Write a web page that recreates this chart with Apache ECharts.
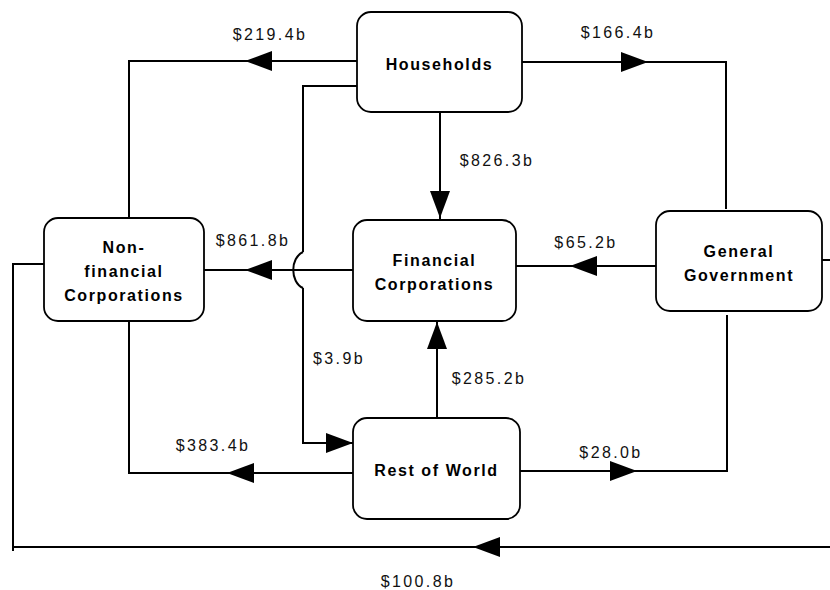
<!DOCTYPE html>
<html>
<head>
<meta charset="utf-8">
<script src="https://cdn.jsdelivr.net/npm/echarts@6/dist/echarts.min.js"></script>
<style>
html, body { margin: 0; padding: 0; background: #fff; }
#flow { width: 830px; height: 590px; }
#flow text { letter-spacing: 2.4px; }
#flow text[style*="bold"] { letter-spacing: 1.6px; }
</style>
</head>
<body>
<div id="flow"></div>
<script>
// sectors of the economy
var sectors = ['Households', 'Non-\nfinancial\nCorporations', 'Financial\nCorporations', 'General\nGovernment', 'Rest of World'];

// flows between sectors ($ billion)
var flowFrom = [0, 0, 0, 0, 2, 3, 4, 4, 4, 3];
var flowTo = [1, 3, 2, 4, 1, 2, 1, 2, 3, 1];
var flowValues = [219.4, 166.4, 826.3, 3.9, 861.8, 65.2, 383.4, 285.2, 28.0, 100.8];

// ---- diagram layout (on an 830 x 590 value grid) ----
// box corners [x1, y1, x2, y2]
var boxes = [[357, 12, 522, 112], [44, 218, 204, 321], [353, 220, 516, 321], [656, 211, 822, 311], [353, 418, 520, 519]];
// connector routes, each a list of polylines
var routes = [
  [[[357, 61], [129, 61], [129, 218]]],
  [[[522, 62], [726, 62], [726, 209]]],
  [[[440, 112], [440, 220]]],
  [[[357, 86], [303, 86], [303, 252]], [[303, 288], [303, 443], [353, 443]]],
  [[[353, 270], [204, 270]]],
  [[[656, 266], [516, 266]]],
  [[[353, 473], [129, 473], [129, 321]]],
  [[[437, 418], [437, 321]]],
  [[[520, 471], [727, 471], [727, 315]]],
  [[[822, 260], [848, 260], [848, 547], [13, 547], [13, 551], [13, 264], [44, 264]]]
];
// line jump where $3.9b crosses $861.8b
var hops = [{flow: 3, from: [303, 252], to: [303, 288], bulge: -13}];
// arrow tip and direction
var arrowTips = [[245, 61], [648, 62], [440, 218], [353, 443], [245, 270], [570, 266], [227, 473], [437, 322], [637, 471], [473, 547]];
var arrowDirs = [[-1, 0], [1, 0], [0, 1], [1, 0], [-1, 0], [-1, 0], [-1, 0], [0, -1], [1, 0], [-1, 0]];
var labelPos = [[270, 34], [618, 32], [497, 160], [339, 358], [253, 240], [586, 242], [213, 445], [489, 378], [611, 452], [418, 581]];

var chart = echarts.init(document.getElementById('flow'), null, {renderer: 'svg'});

function renderBox(params, api) {
  var b = boxes[params.dataIndex];
  var p1 = api.coord([b[0], b[1]]);
  var p2 = api.coord([b[2], b[3]]);
  return {
    type: 'group',
    children: [{
      type: 'rect',
      shape: {x: p1[0], y: p1[1], width: p2[0] - p1[0], height: p2[1] - p1[1], r: 14},
      style: {fill: '#fff', stroke: '#000', lineWidth: 1.8}
    }, {
      type: 'text',
      style: {
        text: sectors[params.dataIndex],
        x: (p1[0] + p2[0]) / 2,
        y: (p1[1] + p2[1]) / 2 + 2,
        align: 'center',
        verticalAlign: 'middle',
        fontFamily: 'Liberation Sans, Arial, sans-serif',
        fontWeight: 'bold',
        fontSize: 16,
        lineHeight: 24,
        fill: '#000'
      }
    }]
  };
}

function renderFlow(params, api) {
  var i = params.dataIndex;
  var children = [];
  routes[i].forEach(function (seg) {
    children.push({
      type: 'polyline',
      shape: {points: seg.map(function (p) { return api.coord(p); })},
      style: {stroke: '#000', lineWidth: 2, fill: null}
    });
  });
  hops.forEach(function (h) {
    if (h.flow !== i) return;
    var a = api.coord(h.from), b = api.coord(h.to);
    var dy = (b[1] - a[1]) / 6;
    children.push({
      type: 'bezierCurve',
      shape: {x1: a[0], y1: a[1], x2: b[0], y2: b[1], cpx1: a[0] + h.bulge, cpy1: a[1] + dy, cpx2: b[0] + h.bulge, cpy2: b[1] - dy},
      style: {stroke: '#000', lineWidth: 2, fill: null}
    });
  });
  // arrow head
  var t = api.coord(arrowTips[i]);
  var d = arrowDirs[i];
  var len = 27, half = 10;
  var bx = t[0] - d[0] * len, by = t[1] - d[1] * len;
  children.push({
    type: 'polygon',
    shape: {points: [t, [bx - d[1] * half, by + d[0] * half], [bx + d[1] * half, by - d[0] * half]]},
    style: {fill: '#000'}
  });
  var lp = api.coord(labelPos[i]);
  children.push({
    type: 'text',
    style: {
      text: '$' + api.value(1).toFixed(1) + 'b',
      x: lp[0], y: lp[1],
      align: 'center',
      verticalAlign: 'middle',
      fontFamily: 'Liberation Sans, Arial, sans-serif',
      fontSize: 16,
      fill: '#111'
    }
  });
  return {type: 'group', children: children};
}

chart.setOption({
  animation: false,
  backgroundColor: '#fff',
  grid: {left: 0, right: 0, top: 0, bottom: 0},
  xAxis: {type: 'value', min: 0, max: 830, show: false},
  yAxis: {type: 'value', min: 0, max: 590, inverse: true, show: false},
  series: [
    {
      type: 'custom',
      name: 'flows',
      renderItem: renderFlow,
      data: flowValues.map(function (v, i) { return [i, v, flowFrom[i], flowTo[i]]; }),
      z: 1
    },
    {
      type: 'custom',
      name: 'sectors',
      renderItem: renderBox,
      data: sectors.map(function (s, i) { return [i]; }),
      z: 2
    }
  ]
});
</script>
</body>
</html>
